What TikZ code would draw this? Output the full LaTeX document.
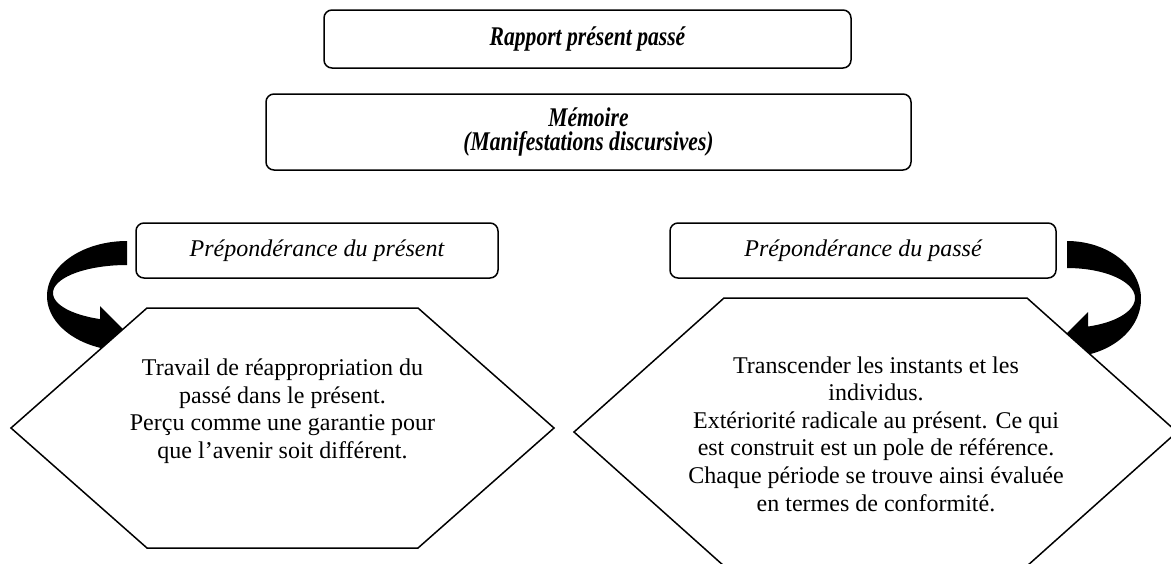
\documentclass[tikz,border=0pt]{standalone}
\usepackage{fontspec}
\setmainfont{Liberation Serif}
\newfontfamily\condbi{Liberation Serif}[FakeStretch=0.8]
\begin{document}
\begin{tikzpicture}[x=0.5pt,y=-0.5pt,
  rbox/.style={draw, line width=0.75pt, rounded corners=4pt, fill=white, inner sep=0pt},
  hexa/.style={draw, line width=0.75pt, fill=white, line join=miter},
  titlefont/.style={font=\condbi\bfseries\itshape\fontsize{13.5pt}{12pt}\selectfont},
  labelfont/.style={font=\itshape\fontsize{12pt}{13.8pt}\selectfont},
  hextext/.style={align=center, inner sep=0pt, font=\fontsize{12pt}{13.8pt}\selectfont},
  curvedarrow/.style={fill=black, draw=none}]
\useasboundingbox (0,0) rectangle (1171,563);
% top boxes
\node[rbox, titlefont, minimum width=263.5pt, minimum height=29pt] (rapport) at (587.5,39) {Rapport présent passé};
\node[rbox, titlefont, align=center, minimum width=322.5pt, minimum height=38pt] (memoire) at (588.5,132) {Mémoire\\(Manifestations discursives)};
% label boxes
\node[rbox, labelfont, minimum width=181pt, minimum height=27.5pt] (present) at (317,250.5) {Prépondérance du présent};
\node[rbox, labelfont, minimum width=193pt, minimum height=27.5pt] (passe) at (863,250.5) {Prépondérance du passé};
% curved arrows (drawn under the hexagons)
\fill[curvedarrow] plot[domain=270:109.7, samples=60, variable=\t] ({127+80*cos(\t)},{296+55*sin(\t)})
  -- (100,362) -- (128,334) -- (100,306)
  -- plot[domain=111.4:270, samples=60, variable=\t] ({127+74*cos(\t)},{293+28*sin(\t)}) -- cycle;
\fill[curvedarrow] plot[domain=270:433.5, samples=60, variable=\t] ({1067+74*cos(\t)},{299+58*sin(\t)})
  -- (1088,368) -- (1060,340) -- (1088,312)
  -- plot[domain=432:270, samples=60, variable=\t] ({1067+68*cos(\t)},{298+30*sin(\t)}) -- cycle;
% hexagons
\draw[hexa] (11,428) -- (147,308) -- (418,308) -- (554,428) -- (418,548) -- (147,548) -- cycle;
\draw[hexa] (574,432) -- (724,298) -- (1027,298) -- (1177,432) -- (1027,566) -- (724,566) -- cycle;
\node[hextext] (lefttext) at (282.5,411) {Travail de réappropriation du\\passé dans le présent.\\Perçu comme une garantie pour\\que l’avenir soit différent.};
\node[hextext] (righttext) at (876,434) {Transcender les instants et les\\individus.\\Extériorité radicale au présent. Ce qui\\est construit est un pole de référence.\\Chaque période se trouve ainsi évaluée\\en termes de conformité.};
\end{tikzpicture}
\end{document}
